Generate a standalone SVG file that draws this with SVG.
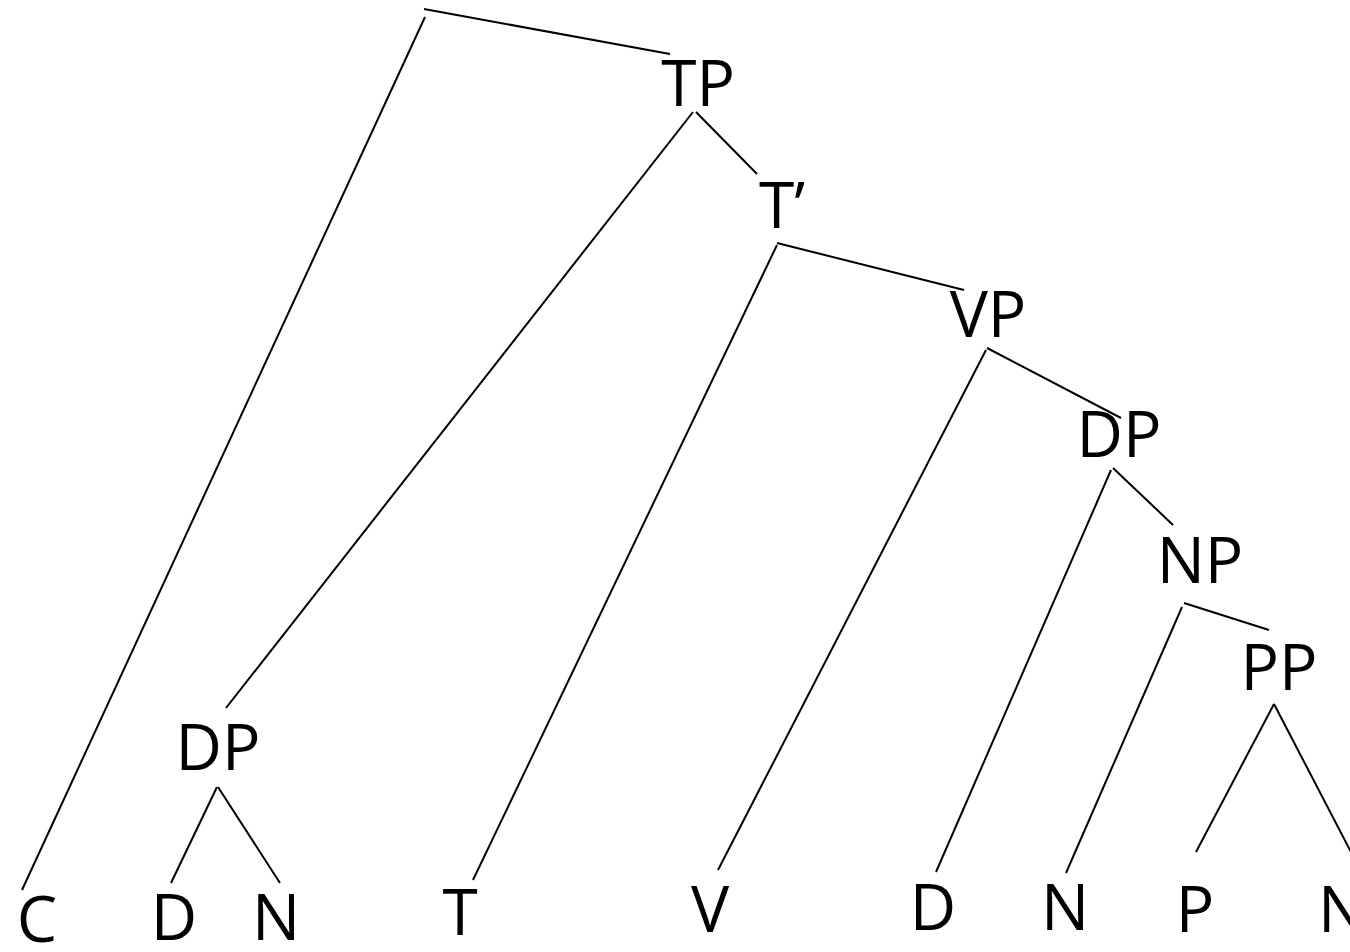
<svg xmlns="http://www.w3.org/2000/svg" width="1350" height="952" viewBox="0 0 1350 952">
<style>
.l{font-family:"Open Sans","Noto Sans","Liberation Sans",sans-serif;font-size:64px;fill:#000;text-anchor:middle}
.e line{stroke:#000;stroke-width:2;stroke-linecap:butt}
</style>
<rect width="1350" height="952" fill="#fff"/>
<g class="e" id="connectors">
<line x1="424" y1="9" x2="670" y2="54"/>
<line x1="425" y1="17" x2="22" y2="890"/>
<line x1="693" y1="112" x2="226" y2="708"/>
<line x1="696" y1="112" x2="757" y2="174"/>
<line x1="777" y1="243" x2="964" y2="290"/>
<line x1="777" y1="245" x2="473" y2="880"/>
<line x1="987" y1="348" x2="1121" y2="418"/>
<line x1="986" y1="350" x2="718" y2="870"/>
<line x1="1113" y1="468" x2="1173" y2="525"/>
<line x1="1111" y1="470" x2="936" y2="872"/>
<line x1="1184" y1="603" x2="1269" y2="630"/>
<line x1="1182" y1="607" x2="1066" y2="873"/>
<line x1="1274" y1="704" x2="1196" y2="852"/>
<line x1="1274" y1="704" x2="1352" y2="854"/>
<line x1="217" y1="787" x2="171" y2="883"/>
<line x1="218" y1="787" x2="280" y2="883"/>
</g>
<g id="TP"><text class="l" x="698" y="106">TP</text></g>
<g id="Tbar"><text class="l" x="782" y="228">T’</text></g>
<g id="VP"><text class="l" x="988" y="337">VP</text></g>
<g id="DP2"><text class="l" x="1119" y="457">DP</text></g>
<g id="NP"><text class="l" x="1200" y="583">NP</text></g>
<g id="PP"><text class="l" x="1279" y="690">PP</text></g>
<g id="DP1"><text class="l" x="218" y="770">DP</text></g>
<g id="C"><text class="l" x="37" y="942">C</text></g>
<g id="D1"><text class="l" x="174" y="940">D</text></g>
<g id="N1"><text class="l" x="276" y="940">N</text></g>
<g id="T"><text class="l" x="460" y="935">T</text></g>
<g id="V"><text class="l" x="710" y="932">V</text></g>
<g id="D2"><text class="l" x="933" y="930">D</text></g>
<g id="N2"><text class="l" x="1065" y="930">N</text></g>
<g id="P"><text class="l" x="1195" y="932">P</text></g>
<g id="N3"><text class="l" x="1342" y="932">N</text></g>
</svg>
